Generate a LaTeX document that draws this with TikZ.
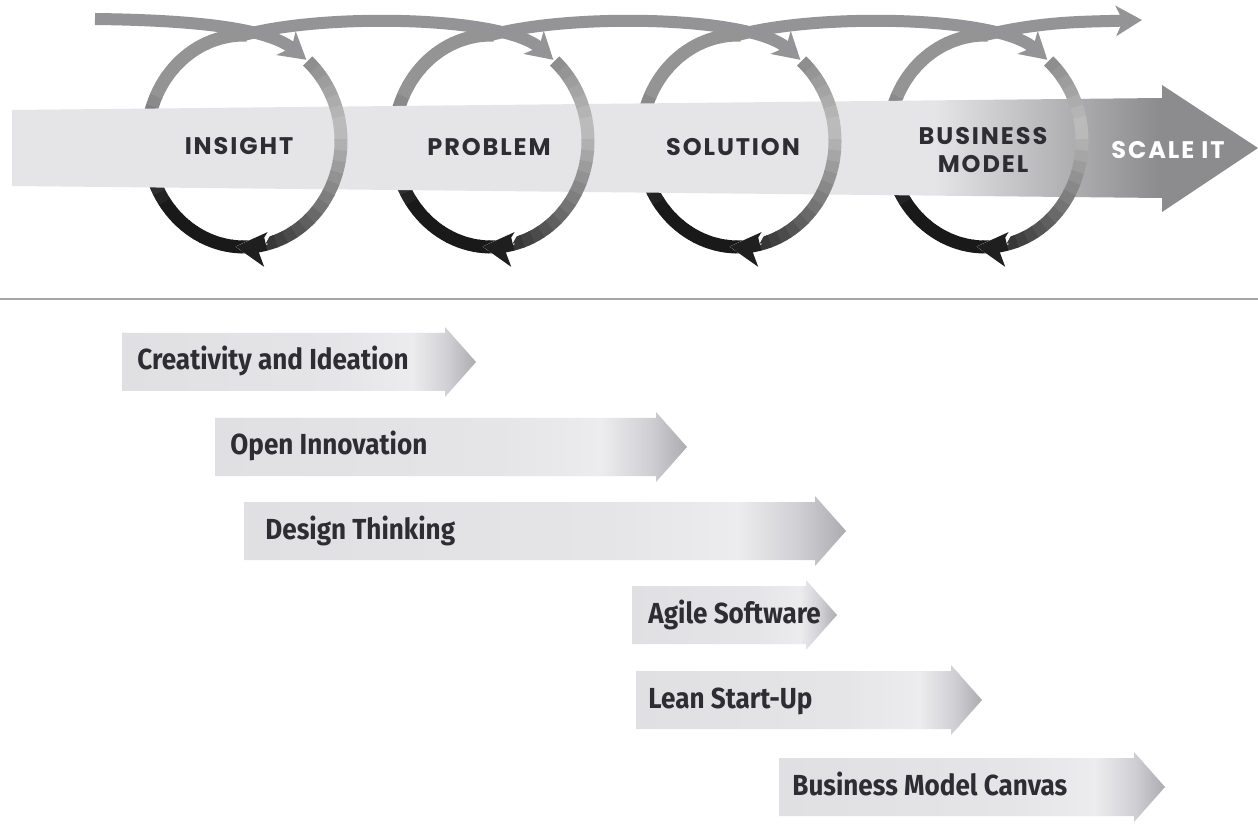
\documentclass[tikz,border=0pt]{standalone}
\usepackage{fontspec}
\setmainfont{Fira Sans}[FakeStretch=0.9]
\newfontfamily\stepfont{Poppins}[LetterSpace=8]
\usetikzlibrary{arrows.meta,calc}
\definecolor{bandgray}{RGB}{229,229,231}
\definecolor{headgray}{RGB}{140,140,142}
\definecolor{ringgray}{RGB}{148,148,150}
\definecolor{labelgray}{RGB}{45,45,50}
\definecolor{toollight}{RGB}{224,224,226}
\definecolor{toolmid}{RGB}{229,229,231}
\definecolor{toolpale}{RGB}{236,236,238}
\definecolor{toolhead}{RGB}{208,208,212}
\definecolor{tooldark}{RGB}{172,172,176}
\pgfdeclarehorizontalshading{bandshade}{100bp}{color(0bp)=(bandgray); color(25bp)=(bandgray); color(62bp)=(bandgray); color(71bp)=(headgray); color(100bp)=(headgray)}
\pgfdeclarehorizontalshading{toolshade}{100bp}{color(0bp)=(toollight); color(25bp)=(toollight); color(55bp)=(toolmid); color(66bp)=(toolpale); color(71bp)=(toolhead); color(75bp)=(tooldark); color(100bp)=(tooldark)}
\begin{document}
\begin{tikzpicture}[x=0.5pt,y=0.5pt,
  ring/.style={line width=6.5pt},
  link/.style={line width=6pt, ringgray, -{Stealth[length=13pt,width=15pt,inset=3.5pt]}},
  steplabel/.style={font=\stepfont\bfseries\fontsize{12}{14}\selectfont, text=labelgray, align=center},
  toollabel/.style={font=\bfseries\fontsize{14.5}{16}\selectfont, text=labelgray, anchor=base west, inner sep=0pt}]

\fill [white] (0,0) rectangle (1258,-839);
\useasboundingbox (0,0) rectangle (1258,-839);

% the four loops
\foreach \i/\cx in {1/244,2/491,3/738,4/985} {
  \coordinate (c\i) at (\cx,-141);
  \coordinate (top\i) at ($(c\i)+(90:97 and 106)$);
  \coordinate (in\i) at ($(c\i)+(50:97 and 106)$);
}
\coordinate (start) at (95,-19);
\coordinate (finish) at (1142,-20);

% connectors over the top
\draw [link] (start) .. controls (180,-20) and (265,-26) .. (in1);
\foreach \i/\j in {1/2,2/3,3/4}
  \draw [link] (top\i) .. controls ($(top\i)+(80,22)$) and ($(in\j)+(-50,44)$) .. (in\j);
\draw [link] (top4) .. controls ($(top4)+(60,14)$) and ($(finish)+(-60,-2)$) .. (finish);

% left halves, under the band
\foreach \i in {1,...,4}
  \foreach \t in {-85,-91,...,-265} {
    \pgfmathsetmacro\k{max(42,min(90,90-(-140-(\t))*0.75))}
    \draw [ring, black!\k] ($(c\i)+(\t:97 and 106)$) arc[start angle=\t, delta angle=-6.5, x radius=97, y radius=106];
  }

% band
\shade [shading=bandshade] (12,-110) -- (1162,-98) -- (1162,-85) -- (1258,-148) -- (1162,-212) -- (1162,-198) -- (12,-186) -- cycle;

% right halves, over the band
\foreach \i in {1,...,4} {
  \foreach \t in {49,43,...,-71} {
    \pgfmathsetmacro\k{(\t>=10) ? 25+((\t)-10)*0.5 : 25+(10-(\t))*0.66}
    \draw [ring, black!\k] ($(c\i)+(\t:97 and 106)$) arc[start angle=\t, delta angle=-6.5, x radius=97, y radius=106];
  }
  \draw [white, line width=0.5pt, -{Stealth[length=18pt,width=21pt,inset=4.5pt]}] ($(c\i)+(-76:97 and 106)$) arc[start angle=-76, end angle=-95, x radius=97, y radius=106];
  \draw [ring, black!88, -{Stealth[length=15pt,width=17pt,inset=4pt]}] ($(c\i)+(-77:97 and 106)$) arc[start angle=-77, end angle=-95, x radius=97, y radius=106];
}

\node [steplabel] (insight) at (239,-146) {INSIGHT};
\node [steplabel] (problem) at (489,-147) {PROBLEM};
\node [steplabel] (solution) at (733,-147) {SOLUTION};
\node [steplabel] (model) at (983,-150) {BUSINESS\\MODEL};
\node [steplabel, text=white] (scale) at (1168,-150) {SCALE IT};

\draw [black!35, line width=1pt] (0,-299) -- (1258,-299);

% methods below
\foreach \n/\xl/\yt/\xh/\xt/\txt in {creativity/122/333/445/137/Creativity and Ideation,
    openinnovation/215/418/656/230/Open Innovation,
    designthinking/244/502/815/265/Design Thinking,
    agile/632/586/806/648/Agile Software,
    leanstartup/636/671/951/648/Lean Start-Up,
    canvas/779/758/1134/792/Business Model Canvas} {
  \shade [shading=toolshade] (\xl,-\yt) -- (\xh,-\yt) -- (\xh,{-\yt+6}) -- ({\xh+31},{-\yt-29}) -- (\xh,{-\yt-64}) -- (\xh,{-\yt-58}) -- (\xl,{-\yt-58}) -- cycle;
  \node [toollabel] (\n) at (\xt,{-\yt-37}) {\txt};
}
\end{tikzpicture}
\end{document}
